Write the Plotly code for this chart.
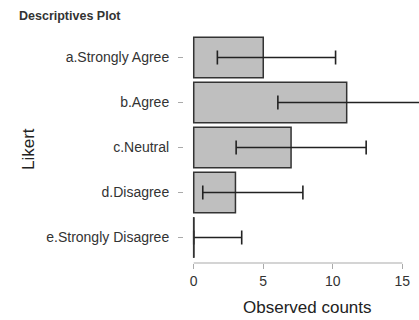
import plotly.graph_objects as go

categories = ["a.Strongly Agree", "b.Agree", "c.Neutral", "d.Disagree", "e.Strongly Disagree"]
counts = [5, 11, 7, 3, 0]
ci_lower = [1.7, 6.05, 3.05, 0.65, 0.0]
ci_upper = [10.2, 17.0, 12.4, 7.85, 3.45]
x_ticks = [0, 5, 10, 15]

err_plus = [u - c for u, c in zip(ci_upper, counts)]
err_minus = [c - l for c, l in zip(counts, ci_lower)]

FONT = "Liberation Sans, Arial, sans-serif"

fig = go.Figure()
fig.add_trace(go.Bar(
    y=categories, x=counts, orientation="h", width=0.9,
    marker=dict(color="#bfbfbf", line=dict(color="#333333", width=1.5)),
    error_x=dict(type="data", symmetric=False, array=err_plus, arrayminus=err_minus,
                 color="#222222", thickness=1.6, width=7),
    showlegend=False, hoverinfo="skip",
))

# zero-count bars are drawn by Plotly as nothing; show them as their outline edge
shapes = []
for idx, c in enumerate(counts):
    if c == 0:
        shapes.append(dict(type="line", xref="x", yref="y", x0=c, x1=c,
                           y0=idx - 0.45, y1=idx + 0.45,
                           line=dict(color="#333333", width=1.6)))
# range-frame x axis line from first to last tick
shapes.append(dict(type="line", xref="x", yref="paper", x0=x_ticks[0], x1=x_ticks[-1],
                   y0=0, y1=0, line=dict(color="#aaaaaa", width=1.2)))

L, R, T, B = 184, 0, 35, 57
W, H = 419, 320

fig.update_layout(
    width=W, height=H,
    margin=dict(l=L, r=R, t=T, b=B, pad=0),
    paper_bgcolor="white", plot_bgcolor="white",
    font=dict(family=FONT, color="#333333"),
    bargap=0.1,
    shapes=shapes,
    xaxis=dict(range=[-0.7, 16.2], tickvals=x_ticks, ticktext=[str(v) for v in x_ticks],
               showgrid=False, zeroline=False, showline=False,
               ticks="outside", ticklen=5, tickcolor="#aaaaaa", tickwidth=1.2,
               tickfont=dict(size=14, color="#333333", family=FONT)),
    yaxis=dict(categoryorder="array", categoryarray=categories,
               range=[4.567, -0.5], autorange=False,
               showgrid=False, zeroline=False, showline=False,
               ticks="outside", ticklen=5, tickcolor="#aaaaaa", tickwidth=1.2,
               ticklabelstandoff=6,
               tickfont=dict(size=14, color="#333333", family=FONT)),
    annotations=[
        dict(text="<b>Descriptives Plot</b>", xref="paper", yref="paper",
             x=(17 - L) / (W - L - R), y=1 + (T - 16) / (H - T - B),
             xanchor="left", yanchor="middle", showarrow=False,
             font=dict(size=12.5, color="#333333", family=FONT)),
        dict(text="Observed counts", xref="paper", yref="paper",
             x=(307.5 - L) / (W - L - R), y=-(307 - (H - B)) / (H - T - B),
             xanchor="center", yanchor="middle", showarrow=False,
             font=dict(size=17, color="#222222", family=FONT)),
        dict(text="Likert", xref="paper", yref="paper", textangle=-90,
             x=(28 - L) / (W - L - R), y=0.5,
             xanchor="center", yanchor="middle", showarrow=False,
             font=dict(size=17, color="#222222", family=FONT)),
    ],
)

fig.write_html("out.html", config={"displayModeBar": False},
               post_script="document.body.style.margin='0';document.body.style.overflow='hidden';")
